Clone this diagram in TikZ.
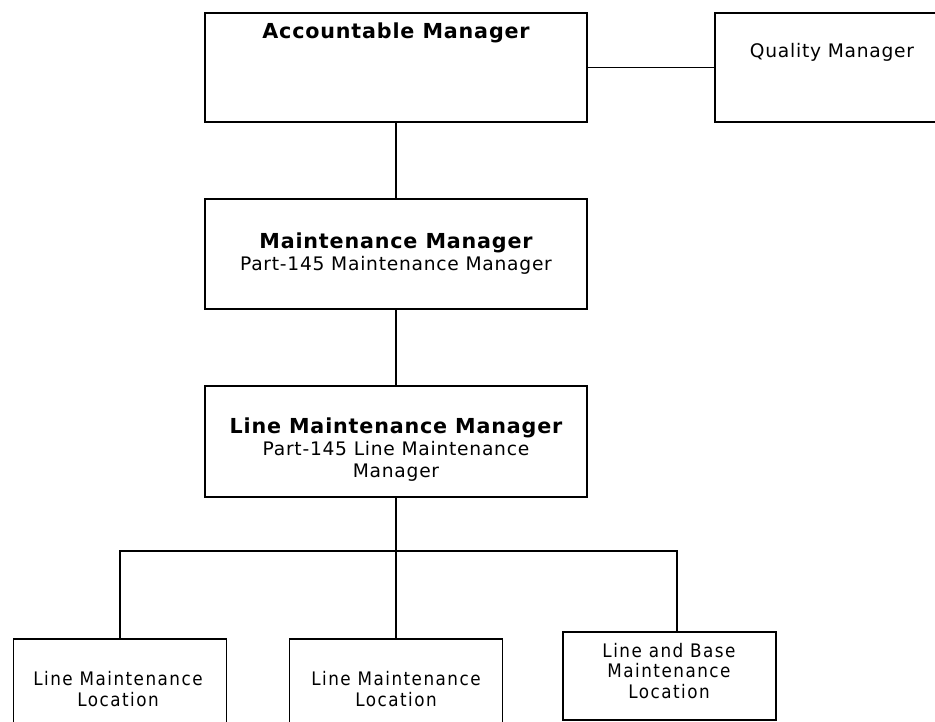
\documentclass[tikz,border=0pt]{standalone}
\usepackage{fontspec}
\setmainfont[LetterSpace=4]{DejaVu Sans}
\newfontfamily\condfont[LetterSpace=8]{DejaVu Sans Condensed}
\tikzset{
  unit box/.style={draw,minimum width=286.5pt,minimum height=82.5pt,inner sep=0pt},
  loc box/.style={draw,minimum width=159.75pt,inner sep=0pt},
  head/.style={align=center,font=\fontsize{14}{16.5}\selectfont},
  loc text/.style={align=center,font=\condfont\fontsize{14}{15.5}\selectfont}
}
\newcommand\boldline[1]{{\bfseries\fontsize{15.5}{16.5}\selectfont #1}}
\begin{document}
\begin{tikzpicture}[x=0.75pt,y=-0.75pt,line width=0.9pt]
  \clip (0,0) rectangle (935,721);

  % top row
  \node[unit box,minimum height=81.75pt] (am) at (396,67.5) {};
  \node[head] (am text) at (396,33) {\boldline{Accountable Manager}};
  \node[unit box,minimum width=180pt,minimum height=81.75pt] (qm) at (835,67.5) {};
  \node[head] (qm text) at (832,52) {Quality Manager};

  % managers
  \node[unit box] (mm) at (396,254) {};
  \node[head] (mm text) at (396,254) {\boldline{Maintenance Manager}\\Part-145 Maintenance Manager};
  \node[unit box,minimum height=83.25pt] (lmm) at (396,441.5) {};
  \node[head] (lmm text) at (396,450) {\boldline{Line Maintenance Manager}\\Part-145 Line Maintenance\\Manager};

  % locations
  \node[loc box,minimum height=76.5pt] (loc1) at (120,690) {};
  \node[loc text] (loc1 text) at (118,689) {Line Maintenance\\Location};
  \node[loc box,minimum height=76.5pt] (loc2) at (396,690) {};
  \node[loc text] (loc2 text) at (396,689) {Line Maintenance\\Location};
  \node[loc box,minimum height=66pt] (loc3) at (669.5,676) {};
  \node[loc text] (loc3 text) at (669,671) {Line and Base\\Maintenance\\Location};

  \coordinate (bus) at (396,551);

  \draw (am) -- (qm);
  \draw (am) -- (mm);
  \draw (mm) -- (lmm);
  \draw (lmm) -- (bus);
  \draw (loc1.north) |- (bus) -| ([xshift=5.6pt]loc3.north);
  \draw (bus) -- (loc2);
\end{tikzpicture}
\end{document}
